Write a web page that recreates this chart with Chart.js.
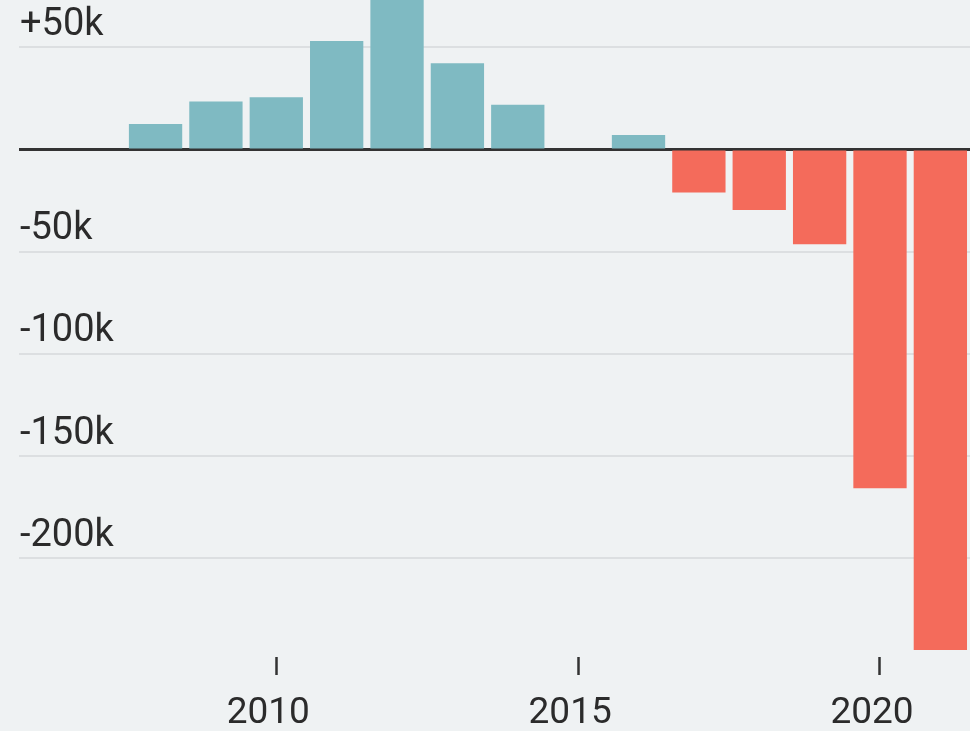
<!DOCTYPE html>
<html lang="en">
<head>
<meta charset="UTF-8">
<title>Bar chart</title>
<style>
    html, body { margin: 0; padding: 0; background: #eff2f3; }
    #wrap { width: 970px; height: 731px; position: relative; }
</style>
<script src="https://cdn.jsdelivr.net/npm/chart.js@4.4.0/dist/chart.umd.min.js"></script>
</head>
<body>
<div id="wrap"><canvas id="myChart"></canvas></div>
<script>
// anni e valori
var years = [2008, 2009, 2010, 2011, 2012, 2013, 2014, 2015, 2016, 2017, 2018, 2019, 2020, 2021];
var values = [12500, 23400, 25500, 53100, 80000, 42200, 21800, null, 7100, -21100, -29600, -46400, -165800, -244900];
var xTicks = [2010, 2015, 2020];
var yTicks = [50000, 0, -50000, -100000, -150000, -200000];
var yLabels = ['+50k', '', '-50k', '-100k', '-150k', '-200k'];

var points = [];
for (var i = 0; i < years.length; i++) {
    points.push({x: years[i], y: values[i]});
}

var FONT = 'Roboto, "Liberation Sans", sans-serif';
var yMin = -248300, yMax = 73100;

// niente padding extra per le etichette dell'asse y
function noPad(scale) {
    scale.width = 0;
    scale.paddingTop = 0;
    scale.paddingBottom = 0;
}

const config = {
    type: 'bar',
    data: {
        datasets: [{
            data: points,
            backgroundColor: function(ctx) {
                var v = ctx.raw ? ctx.raw.y : 0;
                return v < 0 ? '#f46b5b' : '#7fbac2';
            },
            borderWidth: 0,
            barPercentage: 0.883,
            categoryPercentage: 1
        }]
    },
    options: {
        responsive: true,
        maintainAspectRatio: false,
        animation: false,
        layout: { padding: { left: 19, right: 0, top: 0, bottom: 0 } },
        plugins: { legend: { display: false }, tooltip: { enabled: false } },
        scales: {
            x: {
                type: 'linear',
                min: 2005.738,
                max: 2021.491,
                offset: false,
                border: { display: false },
                afterFit: function(scale) {
                    scale.height = 74;
                    scale.paddingLeft = 0;
                    scale.paddingRight = 0;
                },
                grid: {
                    offset: false,
                    drawOnChartArea: false,
                    drawTicks: true,
                    tickLength: 18,
                    tickColor: '#333',
                    tickWidth: 2.5
                },
                afterBuildTicks: function(scale) {
                    scale.ticks = xTicks.map(function(v) { return {value: v}; });
                },
                ticks: {
                    callback: function(v) { return String(v); },
                    font: { family: FONT, size: 37 },
                    color: '#2b2b2b',
                    padding: 17,
                    labelOffset: -8,
                    maxRotation: 0
                }
            },
            y: {
                min: yMin,
                max: yMax,
                border: { display: false },
                afterFit: noPad,
                afterBuildTicks: function(scale) {
                    scale.ticks = yTicks.map(function(v) { return {value: v}; });
                },
                grid: {
                    drawTicks: false,
                    color: function(ctx) { return ctx.tick && ctx.tick.value === 0 ? 'rgba(0,0,0,0)' : '#dcdfe1'; },
                    lineWidth: 2
                },
                ticks: {
                    mirror: true,
                    padding: 1,
                    labelOffset: -22,
                    font: { family: FONT, size: 38 },
                    color: '#2b2b2b',
                    callback: function(v) {
                        var k = yTicks.indexOf(v);
                        return k >= 0 ? yLabels[k] : '';
                    }
                }
            },
            y2: {
                position: 'left',
                min: yMin,
                max: yMax,
                z: 1,
                border: { display: false },
                afterFit: noPad,
                afterBuildTicks: function(scale) {
                    scale.ticks = [{value: 0}];
                },
                grid: { drawTicks: false, color: '#333', lineWidth: 3 },
                ticks: { display: false }
            }
        }
    }
};

var myChart = new Chart(document.getElementById('myChart'), config);
</script>
</body>
</html>
